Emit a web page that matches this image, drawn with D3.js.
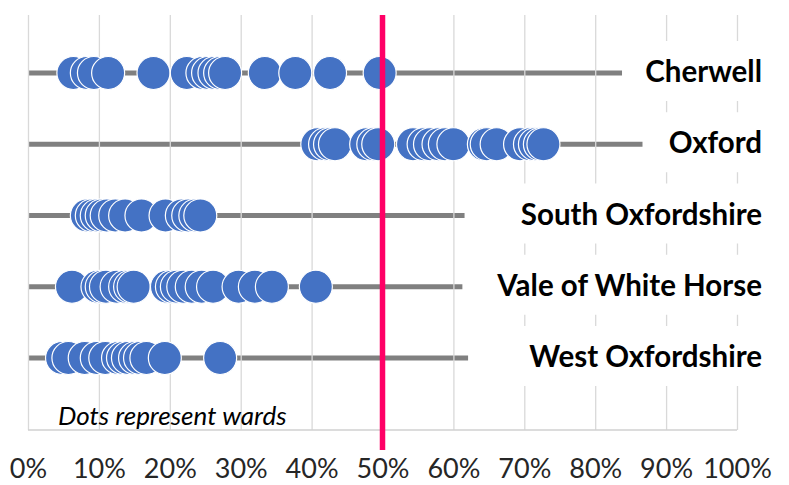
<!DOCTYPE html>
<html>
<head>
<meta charset="utf-8">
<script src="https://cdn.jsdelivr.net/npm/d3@7"></script>
<style>
  body { margin: 0; background: #fff; }
  svg { display: block; }
</style>
</head>
<body>
<script>
// Districts, top to bottom
const districts = ["Cherwell", "Oxford", "South Oxfordshire", "Vale of White Horse", "West Oxfordshire"];

// Ward values per district (share)
const cherwell = [0.064, 0.083, 0.093, 0.113, 0.177, 0.224, 0.246, 0.254, 0.263, 0.271, 0.278, 0.334, 0.377, 0.426, 0.496];
const oxford = [0.408, 0.419, 0.426, 0.433, 0.477, 0.487, 0.494, 0.543, 0.558, 0.567, 0.579, 0.588, 0.600, 0.643, 0.647, 0.661, 0.694, 0.708, 0.715, 0.722, 0.727];
const southOx = [0.083, 0.090, 0.097, 0.104, 0.111, 0.123, 0.137, 0.160, 0.194, 0.217, 0.226, 0.236, 0.243];
const vale = [0.062, 0.098, 0.104, 0.110, 0.125, 0.137, 0.144, 0.149, 0.196, 0.203, 0.210, 0.219, 0.231, 0.245, 0.261, 0.297, 0.320, 0.344, 0.406];
const westOx = [0.048, 0.057, 0.080, 0.097, 0.109, 0.127, 0.134, 0.141, 0.151, 0.158, 0.167, 0.193, 0.271];
const wardValues = [cherwell, oxford, southOx, vale, westOx];

// Where each grey line stops before its label
const lineEnds = [0.838, 0.867, 0.616, 0.613, 0.621];

const ticks = [0, 0.1, 0.2, 0.3, 0.4, 0.5, 0.6, 0.7, 0.8, 0.9, 1.0];
const threshold = 0.5;
const note = "Dots represent wards";

const width = 789;
const height = 485;
const plotTop = 15;
const plotBottom = 430;

const svg = d3.select("body").append("svg")
  .attr("width", width)
  .attr("height", height);

const x = d3.scaleLinear().domain([0, 1]).range([28, 737]);
const y = d3.scalePoint().domain(districts).range([73, 358]);

// grey range lines
svg.selectAll(".range-line")
  .data(districts)
  .enter()
  .append("line")
  .attr("x1", x(0))
  .attr("x2", (d, i) => x(lineEnds[i]))
  .attr("y1", (d) => y(d))
  .attr("y2", (d) => y(d))
  .attr("stroke", "#808080")
  .attr("stroke-width", 5);

// x axis with gridlines
const axis = svg.append("g")
  .attr("class", "x-axis")
  .attr("transform", `translate(0, ${plotBottom})`)
  .call(d3.axisBottom(x)
    .tickValues(ticks)
    .tickSize(-(plotBottom - plotTop))
    .tickPadding(29)
    .tickFormat(d3.format(".0%")));

axis.select(".domain").remove();
axis.selectAll(".tick line")
  .attr("stroke", "#d9d9d9")
  .attr("stroke-width", 1.3);
axis.selectAll(".tick text")
  .attr("fill", "#262626")
  .style("font-family", "Lato, sans-serif")
  .style("font-size", "27px");

// bottom border
svg.append("line")
  .attr("x1", x(0))
  .attr("x2", x(1))
  .attr("y1", plotBottom)
  .attr("y2", plotBottom)
  .attr("stroke", "#d0d0d0")
  .attr("stroke-width", 1.5);

// district labels on white boxes
const labels = svg.selectAll(".label")
  .data(districts)
  .enter()
  .append("g")
  .attr("class", "label");

labels.append("rect")
  .attr("x", (d, i) => x(lineEnds[i]))
  .attr("y", (d) => y(d) - 32)
  .attr("width", (d, i) => 775 - x(lineEnds[i]))
  .attr("height", 60)
  .attr("fill", "#fff");

labels.append("text")
  .attr("x", 762)
  .attr("y", (d) => y(d) + 9)
  .attr("text-anchor", "end")
  .attr("fill", "#000")
  .style("font-family", "Lato, sans-serif")
  .style("font-size", "29.5px")
  .style("font-weight", "bold")
  .text((d) => d);

// ward dots
districts.forEach((name, i) => {
  svg.append("g")
    .selectAll("circle")
    .data(wardValues[i])
    .enter()
    .append("circle")
    .attr("cx", (d) => x(d))
    .attr("cy", y(name))
    .attr("r", 16.5)
    .attr("fill", "#4472c4")
    .attr("stroke", "#fff")
    .attr("stroke-width", 1.2);
});

// 50% line
svg.append("line")
  .attr("x1", x(threshold))
  .attr("x2", x(threshold))
  .attr("y1", plotTop)
  .attr("y2", 450)
  .attr("stroke", "#ff0066")
  .attr("stroke-width", 5.5);

svg.append("text")
  .attr("x", 58)
  .attr("y", 425)
  .attr("fill", "#000")
  .style("font-family", "Lato, sans-serif")
  .style("font-size", "26px")
  .style("font-style", "italic")
  .text(note);
</script>
</body>
</html>
